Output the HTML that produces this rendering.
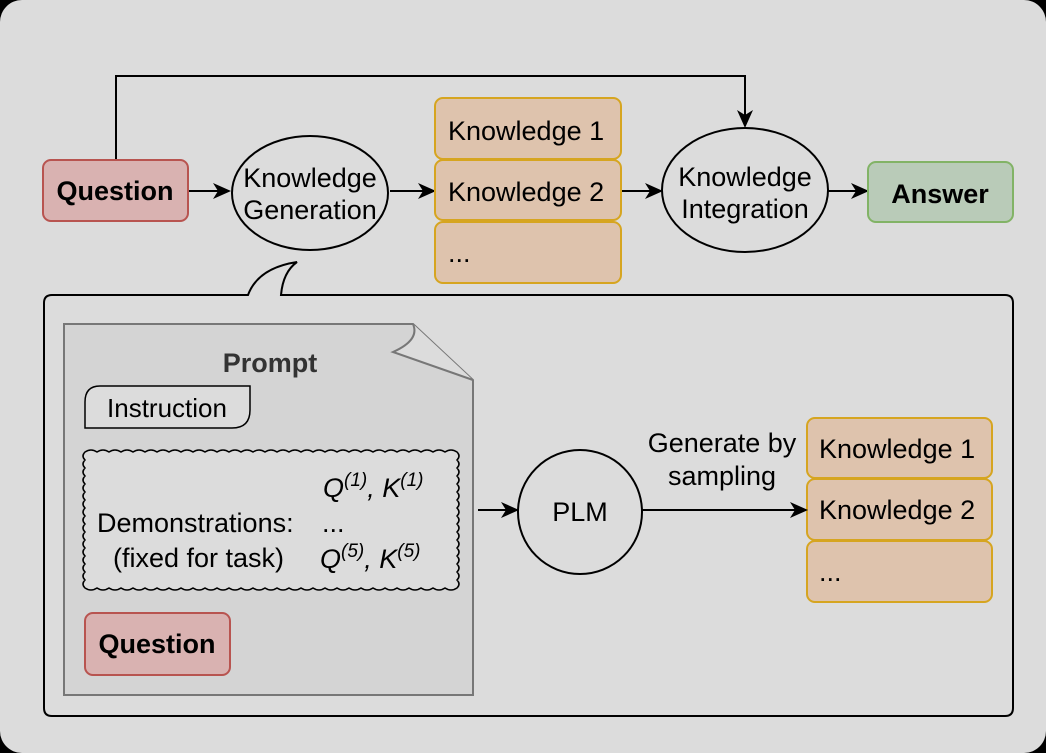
<!DOCTYPE html>
<html><head><meta charset="utf-8"><style>
html,body{margin:0;padding:0;background:#000;}
#w{width:1046px;height:753px;background:#dcdcdc;border-radius:22px;overflow:hidden;}
text{font-family:"Liberation Sans",sans-serif;}
</style></head><body><div id="w">
<svg width="1046" height="753" viewBox="0 0 1046 753" xmlns="http://www.w3.org/2000/svg">
<defs><marker id="a" markerWidth="18" markerHeight="16" refX="16" refY="8" orient="auto" markerUnits="userSpaceOnUse"><path d="M0,0 L18,8 L0,16 L5,8 Z" fill="#000"/></marker></defs>
<g stroke="#000" stroke-width="2" fill="none">
<path d="M116,160 V76 H745 V126" marker-end="url(#a)"/>
<line x1="188" y1="191" x2="229" y2="191" marker-end="url(#a)"/>
<line x1="390" y1="191" x2="434" y2="191" marker-end="url(#a)"/>
<line x1="621" y1="191" x2="661" y2="191" marker-end="url(#a)"/>
<line x1="828" y1="191" x2="867" y2="191" marker-end="url(#a)"/>
<ellipse cx="310" cy="193" rx="78" ry="57"/>
<ellipse cx="745" cy="190" rx="83" ry="62"/>
</g>
<rect x="43" y="160" width="145" height="61" rx="8" fill="#d9b2b1" stroke="#b85450" stroke-width="2"/>
<text x="115" y="200" font-size="27" font-weight="bold" text-anchor="middle">Question</text>
<text x="310" y="187" font-size="27" text-anchor="middle">Knowledge</text>
<text x="310" y="219" font-size="27" text-anchor="middle">Generation</text>
<text x="745" y="186" font-size="27" text-anchor="middle">Knowledge</text>
<text x="745" y="218" font-size="27" text-anchor="middle">Integration</text>
<g fill="#dec3ad" stroke="#d6a520" stroke-width="2">
<rect x="435" y="98" width="186" height="61" rx="8"/>
<rect x="435" y="160" width="186" height="60" rx="8"/>
<rect x="435" y="222" width="186" height="61" rx="8"/>
</g>
<g font-size="27">
<text x="448" y="140">Knowledge 1</text>
<text x="448" y="201">Knowledge 2</text>
<text x="448" y="262">...</text>
</g>
<rect x="868" y="162" width="145" height="60" rx="8" fill="#b9cbb8" stroke="#82b366" stroke-width="2"/>
<text x="940" y="203" font-size="27" font-weight="bold" text-anchor="middle">Answer</text>
<path d="M52,295 H248 Q258,268 297,262 Q283,272 281,295 H1005 Q1013,295 1013,303 V708 Q1013,716 1005,716 H52 Q44,716 44,708 V303 Q44,295 52,295 Z" fill="#dcdcdc" stroke="#000" stroke-width="2"/>
<g fill="#dec3ad" stroke="#d6a520" stroke-width="2">
<rect x="807" y="418" width="185" height="60" rx="8"/>
<rect x="807" y="479" width="185" height="61" rx="8"/>
<rect x="807" y="541" width="185" height="61" rx="8"/>
</g>
<g font-size="27">
<text x="819" y="458">Knowledge 1</text>
<text x="819" y="519">Knowledge 2</text>
<text x="819" y="581">...</text>
</g>
<path d="M64,324 H413 L473,380 V695 H64 Z" fill="#d4d4d4" stroke="#777" stroke-width="2"/>
<path d="M413,324 Q420,340 393,352 L473,380" fill="#dcdcdc" stroke="#777" stroke-width="2"/>
<text x="270" y="372" font-size="27" font-weight="bold" fill="#333" text-anchor="middle">Prompt</text>
<path d="M100,386 H250 V410 Q250,428 232,428 H85 V402 Q85,386 100,386 Z" fill="#dcdcdc" stroke="#000" stroke-width="1.5"/>
<text x="167" y="417" font-size="26" text-anchor="middle">Instruction</text>
<path d="M85,452 q6,-4 12,0 q6,-4 12,0 q6,-4 12,0 q6,-4 12,0 q6,-4 12,0 q6,-4 12,0 q6,-4 12,0 q6,-4 12,0 q6,-4 12,0 q6,-4 12,0 q6,-4 12,0 q6,-4 12,0 q6,-4 12,0 q6,-4 12,0 q6,-4 12,0 q6,-4 12,0 q6,-4 12,0 q6,-4 12,0 q6,-4 12,0 q6,-4 12,0 q6,-4 12,0 q6,-4 12,0 q6,-4 12,0 q6,-4 12,0 q6,-4 12,0 q6,-4 12,0 q6,-4 12,0 q6,-4 12,0 q6,-4 12,0 q6,-4 12,0 q6,-4 12,0
q4,4 0,8 q4,4 0,8 q4,4 0,8 q4,4 0,8 q4,4 0,8 q4,4 0,8 q4,4 0,8 q4,4 0,8 q4,4 0,8 q4,4 0,8 q4,4 0,8 q4,4 0,8 q4,4 0,8 q4,4 0,8 q4,4 0,8 q4,4 0,8 q4,4 0,8
q-6,4 -12,0 q-6,4 -12,0 q-6,4 -12,0 q-6,4 -12,0 q-6,4 -12,0 q-6,4 -12,0 q-6,4 -12,0 q-6,4 -12,0 q-6,4 -12,0 q-6,4 -12,0 q-6,4 -12,0 q-6,4 -12,0 q-6,4 -12,0 q-6,4 -12,0 q-6,4 -12,0 q-6,4 -12,0 q-6,4 -12,0 q-6,4 -12,0 q-6,4 -12,0 q-6,4 -12,0 q-6,4 -12,0 q-6,4 -12,0 q-6,4 -12,0 q-6,4 -12,0 q-6,4 -12,0 q-6,4 -12,0 q-6,4 -12,0 q-6,4 -12,0 q-6,4 -12,0 q-6,4 -12,0 q-6,4 -12,0
q-4,-4 0,-8 q-4,-4 0,-8 q-4,-4 0,-8 q-4,-4 0,-8 q-4,-4 0,-8 q-4,-4 0,-8 q-4,-4 0,-8 q-4,-4 0,-8 q-4,-4 0,-8 q-4,-4 0,-8 q-4,-4 0,-8 q-4,-4 0,-8 q-4,-4 0,-8 q-4,-4 0,-8 q-4,-4 0,-8 q-4,-4 0,-8 q-4,-4 0,-8 Z" fill="#dcdcdc" stroke="#000" stroke-width="1.5"/>
<g font-size="27">
<text x="97" y="532">Demonstrations:</text>
<text x="113" y="567">(fixed for task)</text>
<text x="322" y="532">...</text>
<text x="323" y="497" font-style="italic">Q<tspan dy="-11" font-size="19">(1)</tspan><tspan dy="11">, K</tspan><tspan dy="-11" font-size="19">(1)</tspan></text>
<text x="320" y="568" font-style="italic">Q<tspan dy="-11" font-size="19">(5)</tspan><tspan dy="11">, K</tspan><tspan dy="-11" font-size="19">(5)</tspan></text>
</g>
<rect x="85" y="613" width="145" height="62" rx="8" fill="#d9b2b1" stroke="#b85450" stroke-width="2"/>
<text x="157" y="653" font-size="27" font-weight="bold" text-anchor="middle">Question</text>
<g stroke="#000" stroke-width="2" fill="none">
<line x1="478" y1="510" x2="517" y2="510" marker-end="url(#a)"/>
<circle cx="580" cy="512" r="62"/>
<line x1="642" y1="510" x2="806" y2="510" marker-end="url(#a)"/>
</g>
<text x="580" y="521" font-size="27" text-anchor="middle">PLM</text>
<text x="722" y="452" font-size="27" text-anchor="middle">Generate by</text>
<text x="722" y="485" font-size="27" text-anchor="middle">sampling</text>
</svg></div></body></html>
